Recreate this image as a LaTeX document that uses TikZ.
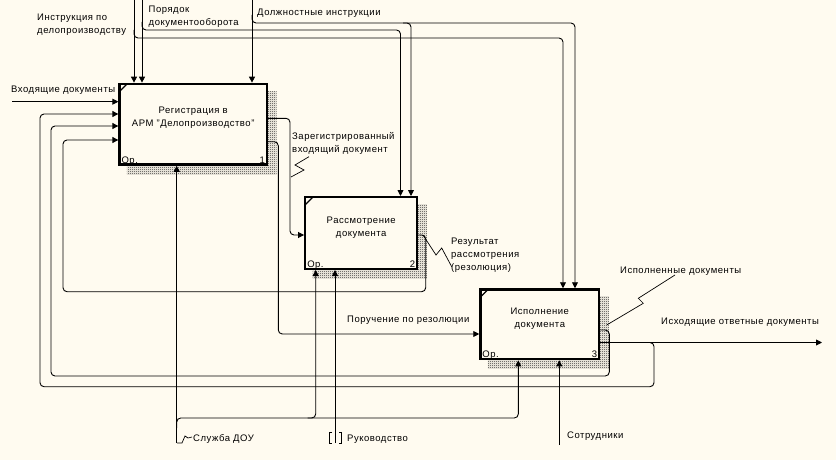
\documentclass[tikz,border=0pt]{standalone}
\usepackage{fontspec}
\setmainfont{Liberation Sans}[LetterSpace=5.5]
\usetikzlibrary{arrows.meta, positioning, calc, patterns, backgrounds}
\definecolor{paper}{RGB}{255,251,240}
\definecolor{ink}{RGB}{0,0,0}
\definecolor{hatchgray}{RGB}{40,40,40}
\pgfdeclarepatternformonly{idefhatch}{\pgfqpoint{0pt}{0pt}}{\pgfqpoint{2pt}{2pt}}{\pgfqpoint{2pt}{2pt}}{%
  \pgfpathrectangle{\pgfqpoint{0pt}{0pt}}{\pgfqpoint{1pt}{1pt}}%
  \pgfpathrectangle{\pgfqpoint{1pt}{1pt}}{\pgfqpoint{1pt}{1pt}}%
  \pgfusepath{fill}}
\tikzset{
  actbox/.style={rectangle, draw=ink, fill=paper, line width=2.4pt, inner sep=0pt},
  hatch/.style={pattern=idefhatch, pattern color=hatchgray},
  arrow/.style={-{Triangle[length=6pt,width=6pt]}, line width=0.9pt, color=ink, rounded corners=4pt},
  line/.style={line width=0.9pt, color=ink, rounded corners=4pt},
  squig/.style={line width=0.7pt, color=ink},
  tick/.style={line width=1.3pt, color=ink},
  lbl/.style={font=\fontsize{9.5}{13}\selectfont, inner sep=0pt, align=left, anchor=west},
  boxlbl/.style={font=\fontsize{9.5}{13}\selectfont, inner sep=0pt, align=center},
  corner/.style={font=\fontsize{9.5}{13}\selectfont, inner sep=0pt}
}
\begin{document}
\begin{tikzpicture}[x=1pt, y=-1pt]
  \useasboundingbox (0,0) rectangle (836,460);

  % activity boxes
  \node[actbox, minimum width=147.3pt, minimum height=80.7pt] (b1) at (193.2,124.2) {};
  \node[actbox, minimum width=111.9pt, minimum height=71.6pt] (b2) at (361.2,233) {};
  \node[actbox, minimum width=118.7pt, minimum height=69.7pt] (b3) at (539.8,324.3) {};

  \begin{scope}[on background layer]
    \fill[paper] (0,0) rectangle (836,460);
    \foreach \b in {b1,b2,b3}
      \fill[hatch] ([xshift=8.5pt,yshift=-8.5pt]\b.north west) rectangle ([xshift=8.5pt,yshift=-8.5pt]\b.south east);
  \end{scope}

  \foreach \b/\n in {b1/1,b2/2,b3/3} {
    \draw[tick] ($(\b.north west)+(1,9)$) -- ($(\b.north west)+(9,1)$);
    \node[corner, anchor=base west] at ([xshift=3pt,yshift=2.4pt]\b.south west) {Ор.};
    \node[corner, anchor=base east] at ([xshift=-3pt,yshift=2.4pt]\b.south east) {\n};
  }
  \node[boxlbl] at ([yshift=6pt]b1.center) {Регистрация в\\АРМ "Делопроизводство"};
  \node[boxlbl] at ([yshift=5.5pt]b2.center) {Рассмотрение\\документа};
  \node[boxlbl] at ([yshift=6pt]b3.center) {Исполнение\\документа};

  % free ends
  \coordinate (instr) at (134,0);
  \coordinate (order) at (142,0);
  \coordinate (duty) at (252,0);
  \coordinate (incoming) at (12,101.7);
  \coordinate (outgoing) at (822,342.5);
  \coordinate (service) at (176.7,443);
  \coordinate (chief) at (335,443);
  \coordinate (staff) at (559.3,445);

  % controls
  \draw[arrow] (instr) -- (instr |- b1.north);
  \draw[arrow] (order) -- (order |- b1.north);
  \draw[arrow] (duty) -- (duty |- b1.north);
  \coordinate (dInstr) at (563,38);
  \coordinate (dOrder) at (400.5,30);
  \coordinate (dDuty) at (575,23);
  \coordinate (dDuty2) at (411,23);
  \draw[arrow] ([yshift=-30pt]instr) |- (dInstr) -- (dInstr |- b3.north);
  \draw[arrow] ([yshift=-22pt]order) |- (dOrder) -- (dOrder |- b2.north);
  \draw[arrow] ([yshift=-15pt]duty) |- (dDuty) -- (dDuty |- b3.north);
  \draw[arrow] ([xshift=-8pt]dDuty2) -- (dDuty2) -- (dDuty2 |- b2.north);

  % inputs and outputs
  \draw[arrow] (incoming) -- (incoming -| b1.west);
  \coordinate (o1a) at (290,235);
  \coordinate (o1b) at (278.3,334);
  \draw[arrow] ([yshift=5.9pt]b1.east) -| (o1a) -- (o1a -| b2.west);
  \draw[arrow] ([yshift=-17.5pt]b1.east) -| (o1b) -- (o1b -| b3.west);
  \coordinate (fb2) at (425.7,291.7);
  \coordinate (fb2in) at (63,140);
  \draw[arrow] ([yshift=-2pt]b2.east) -| (fb2) -| (fb2in) -- (fb2in -| b1.west);
  \coordinate (fb3) at (609.3,376);
  \coordinate (fb3in) at (51,126);
  \draw[arrow] ([yshift=-5.7pt]b3.east) -| (fb3) -| (fb3in) -- (fb3in -| b1.west);
  \draw[arrow] ([yshift=-18.2pt]b3.east) -- (outgoing);
  \coordinate (jout) at (648,342.5);
  \coordinate (fbout) at (654,386.7);
  \coordinate (fboutin) at (40,114);
  \draw[arrow] (jout) -| (fbout) -| (fboutin) -- (fboutin -| b1.west);

  % mechanisms
  \draw[arrow] (service) -- (service |- b1.south);
  \coordinate (jsvc) at (176.7,428);
  \coordinate (m2) at (315.7,418);
  \coordinate (m3) at (518.3,418);
  \draw[arrow] (jsvc) |- (m2) -- (m2 |- b2.south);
  \draw[arrow] ([xshift=-8pt]m2) -- (m3) -- (m3 |- b3.south);
  \draw[arrow] (chief) -- (chief |- b2.south);
  \draw[line, rounded corners=0pt] ([xshift=-3pt,yshift=11pt]chief) -- ++(-2.5,0) -- ++(0,11) -- ++(2.5,0);
  \draw[line, rounded corners=0pt] ([xshift=4pt,yshift=11pt]chief) -- ++(2.5,0) -- ++(0,11) -- ++(-2.5,0);
  \draw[arrow] (staff) -- (staff |- b3.south);

  % labels
  \node[lbl] (lInstr) at (37,24.5) {Инструкция по\\делопроизводству};
  \node[lbl] (lOrder) at (148.5,17) {Порядок\\документооборота};
  \node[lbl] (lDuty) at (257,13.5) {Должностные инструкции};
  \node[lbl] (lIn) at (11,90.5) {Входящие документы};
  \node[lbl] (lReg) at (292,143.5) {Зарегистрированный\\входящий документ};
  \node[lbl] (lRes) at (451,255.5) {Результат\\рассмотрения\\(резолюция)};
  \node[lbl] (lOrd) at (347,320) {Поручение по резолюции};
  \node[lbl] (lDone) at (620,271) {Исполненные документы};
  \node[lbl] (lOut) at (661,322) {Исходящие ответные документы};
  \node[lbl] (lSvc) at (193,438.5) {Служба ДОУ};
  \node[lbl] (lChief) at (347,439.5) {Руководство};
  \node[lbl] (lStaff) at (567,436.5) {Сотрудники};

  % label leaders
  \coordinate (tReg) at (291,177);
  \coordinate (tRes) at (423,235);
  \coordinate (tDone) at (606.7,325);
  \coordinate (tSvc) at (177,443);
  \draw[squig] (tReg) -- ++(13,-7) -- ++(-9,-5) -- ++(14,-8.3);
  \draw[squig] (tRes) -- ++(13,20) -- ++(5.7,-7) -- ++(10,18.7);
  \draw[squig] (tDone) -- ++(36.6,-21.7) -- ++(-5,-5) -- ++(36.7,-23.3);
  \draw[squig] (tSvc) -- ++(5,0) -- ++(3,-7) -- ++(3,2) -- ++(4,-1);
\end{tikzpicture}
\end{document}
